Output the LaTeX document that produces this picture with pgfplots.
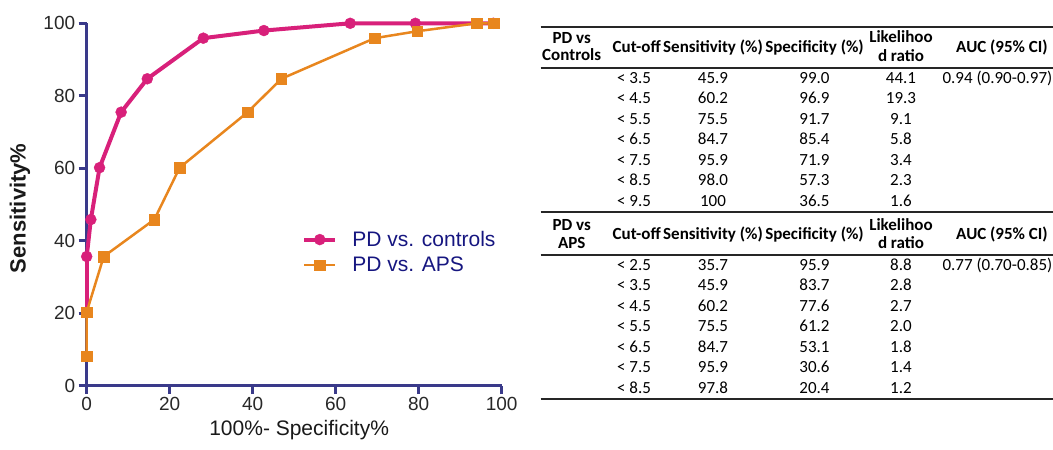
\documentclass[border=0pt]{standalone}
\usepackage{pgfplots}
\pgfplotsset{compat=1.18}
\usepackage{fontspec}
\setmainfont{Liberation Sans}
\newfontfamily\tabfont{Carlito}
\definecolor{axnavy}{RGB}{58,58,138}
\definecolor{pdpink}{RGB}{216,32,122}
\definecolor{pdorange}{RGB}{232,134,30}
\definecolor{legnavy}{RGB}{22,22,128}
\definecolor{tickgray}{RGB}{40,40,40}
\begin{document}
\begin{tikzpicture}
\path[use as bounding box] (0pt,0pt) rectangle (1053pt,450pt);
\begin{axis}[
  at={(86.7pt,64pt)}, anchor=south west,
  scale only axis, width=415pt, height=362.7pt,
  xmin=0, xmax=100, ymin=0, ymax=100,
  axis x line*=bottom, axis y line*=left,
  axis line style={-, draw=axnavy, line width=3pt},
  xtick={0,20,...,100}, ytick={0,20,...,100},
  tick align=outside, major tick length=8pt,
  tick style={draw=axnavy, line width=3pt},
  ticklabel style={font=\fontsize{19}{22}\selectfont, text=tickgray},
  /pgf/number format/assume math mode=true,
  xlabel={100\%- Specificity\%},
  ylabel={Sensitivity\%},
  xlabel style={font=\fontsize{21}{24}\selectfont, text=black!90, at={(axis description cs:0.512,-0.121)}, anchor=center},
  ylabel style={font=\fontsize{22}{25}\selectfont\bfseries, text=black!90, at={(axis description cs:-0.161,0.49)}, anchor=center},
  clip=false,
  legend cell align=left,
  legend style={at={(axis cs:51.9,36.9)}, anchor=west, draw=none, fill=none,
    font=\fontsize{21}{24}\selectfont, text=legnavy, inner sep=0pt,
    row sep=9pt, column sep=15pt, nodes={inner sep=0pt}},
  legend image code/.code={\draw[mark repeat=2,mark phase=2] plot coordinates {(0pt,0pt) (15.5pt,0pt) (31pt,0pt)};},
]
\addplot[pdpink, line width=4pt, forget plot] coordinates {(0,20.4) (0,35.7)};
\addplot[pdpink, line width=4pt, mark=*, mark size=5.5pt, mark options={solid, line width=0.4pt}]
  coordinates {(0,35.7) (1.0,45.9) (3.1,60.2) (8.3,75.5) (14.6,84.7) (28.1,95.9) (42.7,98.0) (63.5,100) (79.2,100) (98,100)};
\addlegendentry{PD vs. controls}
\addplot[pdorange, line width=2.5pt, mark=square*, mark size=5.3pt, mark options={solid, line width=0.4pt}]
  coordinates {(0,8.2) (0,20.4) (4.1,35.7) (16.3,45.9) (22.4,60.2) (38.8,75.5) (46.9,84.7) (69.4,95.9) (79.6,97.8) (94,100) (98,100)};
\addlegendentry{PD vs. APS}
\end{axis}
\begin{scope}[x=1pt,y=1pt, every node/.style={font=\tabfont\fontsize{17}{20}\selectfont, inner sep=0pt, text height=0.8em, text depth=0.16em}]
\foreach \yy in {26.7,68,212,255,399} {
  \draw[line width=2pt, black!85] (540.7,{450-\yy}) -- (1060,{450-\yy});
}
% table 1 header
\node[font=\tabfont\fontsize{17}{20}\selectfont\bfseries] at (571.7,{450-40}) {PD vs};
\node[font=\tabfont\fontsize{17}{20}\selectfont\bfseries] at (571.7,{450-57.5}) {Controls};
\node[font=\tabfont\fontsize{17}{20}\selectfont\bfseries] at (636.7,{450-49}) {Cut-off};
\node[font=\tabfont\fontsize{17}{20}\selectfont\bfseries] at (713,{450-49}) {Sensitivity (\%)};
\node[font=\tabfont\fontsize{17}{20}\selectfont\bfseries] at (814.5,{450-49}) {Specificity (\%)};
\node[font=\tabfont\fontsize{17}{20}\selectfont\bfseries] at (901,{450-39.5}) {Likelihoo};
\node[font=\tabfont\fontsize{17}{20}\selectfont\bfseries] at (901,{450-58}) {d ratio};
\node[font=\tabfont\fontsize{17}{20}\selectfont\bfseries] at (1002,{450-49}) {AUC (95\% CI)};
\foreach \c/\s/\p/\l [count=\i from 0] in {3.5/45.9/99.0/44.1, 4.5/60.2/96.9/19.3, 5.5/75.5/91.7/9.1, 6.5/84.7/85.4/5.8, 7.5/95.9/71.9/3.4, 8.5/98.0/57.3/2.3, 9.5/100/36.5/1.6} {
  \pgfmathsetmacro\yy{450-80-20.5*\i}
  \node at (634,\yy) {< \c};
  \node at (713,\yy) {\s};
  \node at (814.5,\yy) {\p};
  \node at (901,\yy) {\l};
}
\node[anchor=east] at (1052.5,{450-80}) {0.94 (0.90-0.97)};
% table 2 header
\node[font=\tabfont\fontsize{17}{20}\selectfont\bfseries] at (571.7,{450-227}) {PD vs};
\node[font=\tabfont\fontsize{17}{20}\selectfont\bfseries] at (571.7,{450-245}) {APS};
\node[font=\tabfont\fontsize{17}{20}\selectfont\bfseries] at (636.7,{450-236}) {Cut-off};
\node[font=\tabfont\fontsize{17}{20}\selectfont\bfseries] at (713,{450-236}) {Sensitivity (\%)};
\node[font=\tabfont\fontsize{17}{20}\selectfont\bfseries] at (814.5,{450-236}) {Specificity (\%)};
\node[font=\tabfont\fontsize{17}{20}\selectfont\bfseries] at (901,{450-227}) {Likelihoo};
\node[font=\tabfont\fontsize{17}{20}\selectfont\bfseries] at (901,{450-245.5}) {d ratio};
\node[font=\tabfont\fontsize{17}{20}\selectfont\bfseries] at (1002,{450-236}) {AUC (95\% CI)};
\foreach \c/\s/\p/\l [count=\i from 0] in {2.5/35.7/95.9/8.8, 3.5/45.9/83.7/2.8, 4.5/60.2/77.6/2.7, 5.5/75.5/61.2/2.0, 6.5/84.7/53.1/1.8, 7.5/95.9/30.6/1.4, 8.5/97.8/20.4/1.2} {
  \pgfmathsetmacro\yy{450-267-20.5*\i}
  \node at (634,\yy) {< \c};
  \node at (713,\yy) {\s};
  \node at (814.5,\yy) {\p};
  \node at (901,\yy) {\l};
}
\node[anchor=east] at (1052.5,{450-267}) {0.77 (0.70-0.85)};
\end{scope}
\end{tikzpicture}
\end{document}
